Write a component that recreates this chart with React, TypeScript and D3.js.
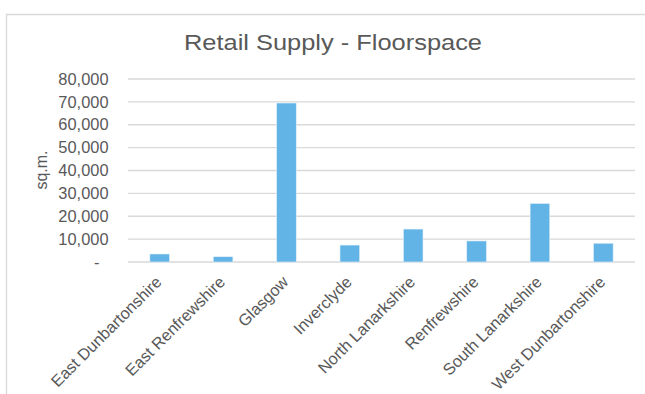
import React from "react";
import * as d3 from "d3";

const categories = [
  "East Dunbartonshire",
  "East Renfrewshire",
  "Glasgow",
  "Inverclyde",
  "North Lanarkshire",
  "Renfrewshire",
  "South Lanarkshire",
  "West Dunbartonshire",
];
const values = [3500, 2300, 69500, 7400, 14400, 9200, 25600, 8200];
const yTicks = [0, 10000, 20000, 30000, 40000, 50000, 60000, 70000, 80000];
const title = "Retail Supply - Floorspace";
const yTitle = "sq.m.";

const W = 645;
const H = 394;
const left = 128;
const right = 635;
const top = 79;
const bottom = 262;
const font = "'Liberation Sans', Arial, sans-serif";
const textColor = "#595959";

export default function App() {
  const x = d3.scaleBand<string>().domain(categories).range([left, right]).paddingInner(0.69).paddingOuter(0.345);
  const y = d3.scaleLinear().domain([0, 80000]).range([bottom, top]);
  const fmt = d3.format(",");
  return (
    <svg width={W} height={H} style={{ position: "absolute", left: 0, top: 0, background: "#fff" }}>
      <rect x={0} y={0} width={W} height={H} fill="#fff" />
      <path d={`M6.5,${H} V14.5 H${W}`} fill="none" stroke="#D9D9D9" strokeWidth={1.3} />
      <text
        x={333}
        y={49.5}
        textAnchor="middle"
        fontFamily={font}
        fontSize={22}
        textLength={298}
        lengthAdjust="spacingAndGlyphs"
        fill={textColor}
      >
        {title}
      </text>
      {yTicks.map((t) => (
        <line key={"g" + t} x1={left} x2={right} y1={y(t)} y2={y(t)} stroke="#D9D9D9" strokeWidth={1.3} />
      ))}
      {yTicks.map((t) => (
        <text
          key={"t" + t}
          x={t === 0 ? 99.5 : 108.5}
          y={y(t)}
          dy="0.35em"
          textAnchor="end"
          fontFamily={font}
          fontSize={16.4}
          fill={textColor}
        >
          {t === 0 ? "-" : fmt(t)}
        </text>
      ))}
      <text
        transform={`translate(47,170) rotate(-90)`}
        textAnchor="middle"
        fontFamily={font}
        fontSize={16}
        fill={textColor}
      >
        {yTitle}
      </text>
      {categories.map((c, i) => (
        <rect
          key={"b" + c}
          x={x(c)!}
          y={y(values[i])}
          width={x.bandwidth()}
          height={y(0) - y(values[i])}
          fill="#62B3E6"
          stroke="#E3F1FA"
          strokeWidth={0.6}
        />
      ))}
      {categories.map((c) => {
        const cx = x(c)! + x.bandwidth() / 2 + 3;
        const cy = bottom + 21;
        return (
          <text
            key={"l" + c}
            transform={`translate(${cx},${cy}) rotate(-45)`}
            textAnchor="end"
            fontFamily={font}
            fontSize={16.3}
            fill={textColor}
          >
            {c}
          </text>
        );
      })}
    </svg>
  );
}
